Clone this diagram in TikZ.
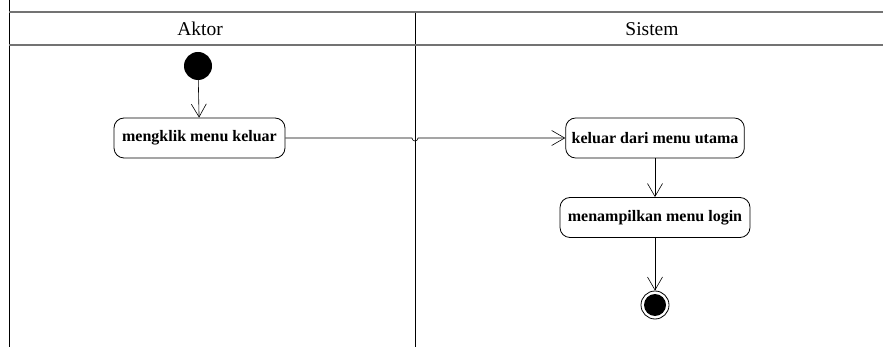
\documentclass[tikz,border=0pt]{standalone}
\usepackage{fontspec}
\setmainfont{Liberation Serif}
\usetikzlibrary{arrows.meta}
\begin{document}
\begin{tikzpicture}[x=1pt,y=-1pt,
  act/.style={draw,rounded corners=10pt,line width=0.8pt,minimum height=40pt,inner xsep=6pt,font=\fontsize{16}{18}\selectfont\bfseries},
  flow/.style={draw,line width=0.6pt,-{Straight Barb[length=13pt,width=15pt]}},
  lane/.style={line width=0.8pt},
  head/.style={line width=1.8pt,draw=black!55},
  title/.style={font=\fontsize{19.5}{21}\selectfont}]
\useasboundingbox (0,0) rectangle (883,347);
% swimlanes
\draw[lane] (9,0) -- (9,347);
\draw[lane] (415,12) -- (415,347);
\draw[head] (9,12) -- (883,12);
\draw[head] (9,45) -- (883,45);
\node[title] (aktor) at (200,29) {Aktor};
\node[title] (sistem) at (652,29) {Sistem};
% nodes
\node[circle,fill=black,minimum size=28pt,inner sep=0pt] (start) at (198,66) {};
\node[act,minimum width=171pt] (a1) at (199.5,138) {mengklik menu keluar};
\node[act,minimum width=176pt] (s1) at (655,138) {keluar dari menu utama};
\node[act,minimum width=190pt] (s2) at (655,217.5) {menampilkan menu login};
\node[circle,draw,line width=0.8pt,minimum size=28pt,inner sep=0pt] (end) at (655,305) {};
\node[circle,fill=black,minimum size=22pt,inner sep=0pt] at (end) {};
% connectors
\draw[flow] (start) -- (a1);
\draw[flow] (a1.east) -- (412,138) arc[start angle=180,end angle=0,radius=3] -- (s1.west);
\draw[flow] (s1) -- (s2);
\draw[flow] (s2) -- (end);
\end{tikzpicture}
\end{document}
